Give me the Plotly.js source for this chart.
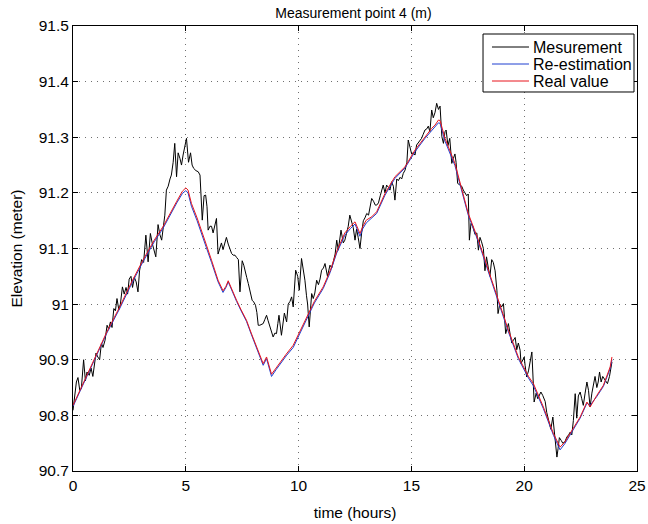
<!DOCTYPE html>
<html>
<head>
<meta charset="utf-8">
<script src="https://cdn.plot.ly/plotly-3.0.1.min.js"></script>
<style>html,body{margin:0;padding:0;background:#fff;}#chart{width:648px;height:524px;}</style>
</head>
<body>
<div id="chart"></div>
<script>
// Measurement (black), time in hours
const measTime = [0.00,0.07,0.15,0.22,0.30,0.37,0.47,0.55,0.62,0.72,0.80,0.88,0.95,1.02,1.10,1.18,1.26,1.33,1.42,1.51,1.58,1.66,1.73,1.81,1.88,1.95,2.03,2.10,2.19,2.27,2.35,2.42,2.49,2.57,2.64,2.72,2.80,2.88,2.95,3.04,3.13,3.23,3.33,3.43,3.52,3.60,3.67,3.77,3.85,3.93,4.00,4.07,4.14,4.22,4.30,4.36,4.44,4.51,4.59,4.66,4.74,4.81,4.88,4.96,5.03,5.12,5.21,5.28,5.35,5.45,5.55,5.63,5.73,5.81,5.88,5.94,5.99,6.07,6.14,6.21,6.28,6.36,6.43,6.50,6.58,6.65,6.73,6.80,6.88,6.95,7.03,7.10,7.18,7.25,7.33,7.40,7.50,7.57,7.62,7.70,7.77,7.85,7.94,8.01,8.09,8.15,8.21,8.28,8.36,8.43,8.50,8.58,8.65,8.73,8.80,8.87,8.95,9.02,9.08,9.13,9.24,9.30,9.37,9.47,9.54,9.62,9.69,9.76,9.87,9.96,10.03,10.13,10.20,10.28,10.35,10.40,10.47,10.53,10.58,10.65,10.72,10.80,10.88,10.95,11.02,11.10,11.17,11.28,11.39,11.47,11.54,11.62,11.69,11.76,11.88,11.98,12.05,12.13,12.20,12.27,12.35,12.42,12.50,12.57,12.64,12.72,12.80,12.87,12.94,13.02,13.10,13.17,13.24,13.32,13.40,13.46,13.54,13.62,13.68,13.75,13.83,13.90,13.98,14.05,14.12,14.20,14.27,14.35,14.42,14.50,14.57,14.64,14.72,14.80,14.86,14.94,15.01,15.08,15.16,15.23,15.30,15.38,15.45,15.52,15.60,15.68,15.75,15.82,15.90,15.97,16.05,16.12,16.20,16.27,16.35,16.42,16.49,16.54,16.62,16.70,16.79,16.86,16.93,16.98,17.05,17.12,17.23,17.30,17.38,17.45,17.52,17.57,17.64,17.72,17.82,17.90,17.97,18.04,18.11,18.19,18.26,18.33,18.41,18.48,18.56,18.63,18.71,18.79,18.84,18.92,19.00,19.08,19.18,19.25,19.30,19.38,19.45,19.52,19.60,19.67,19.74,19.82,19.86,19.94,20.00,20.04,20.11,20.19,20.26,20.34,20.44,20.53,20.60,20.65,20.74,20.82,20.88,20.93,21.00,21.07,21.13,21.18,21.27,21.33,21.37,21.45,21.50,21.56,21.64,21.71,21.80,21.89,21.97,22.04,22.11,22.18,22.26,22.33,22.40,22.48,22.55,22.62,22.70,22.78,22.85,22.92,23.00,23.07,23.14,23.22,23.28,23.34,23.41,23.48,23.55,23.62,23.69,23.78,23.89];
const measValue = [90.809,90.832,90.860,90.868,90.845,90.848,90.900,90.862,90.878,90.872,90.885,90.870,90.895,90.912,90.905,90.900,90.930,90.922,90.935,90.962,90.955,90.968,90.958,90.992,90.988,91.010,90.990,91.000,91.031,91.018,91.030,91.018,91.045,91.050,91.030,91.048,91.040,91.022,91.060,91.080,91.075,91.124,91.076,91.127,91.108,91.098,91.085,91.143,91.125,91.115,91.138,91.160,91.205,91.212,91.225,91.232,91.255,91.289,91.229,91.272,91.262,91.250,91.268,91.282,91.298,91.255,91.272,91.250,91.244,91.240,91.238,91.232,91.151,91.195,91.196,91.175,91.133,91.140,91.140,91.128,91.140,91.154,91.090,91.100,91.110,91.098,91.112,91.120,91.108,91.098,91.091,91.088,91.088,91.084,91.080,91.022,91.078,91.070,91.063,91.048,91.037,91.025,91.007,91.004,90.998,90.985,90.962,90.962,90.964,90.965,90.972,90.980,90.970,90.958,90.948,90.941,90.948,90.947,90.965,90.980,90.944,90.968,90.984,90.968,91.000,91.005,91.013,90.995,91.061,91.050,91.025,91.082,91.065,91.043,91.015,91.000,90.959,90.995,91.019,91.010,91.020,91.043,91.035,91.045,91.061,91.065,91.073,91.050,91.070,91.065,91.075,91.090,91.115,91.097,91.133,91.110,91.115,91.127,91.140,91.160,91.150,91.138,91.115,91.135,91.120,91.100,91.130,91.150,91.155,91.163,91.160,91.175,91.190,91.185,91.178,91.178,91.182,91.195,91.205,91.214,91.200,91.214,91.210,91.205,91.220,91.212,91.187,91.225,91.222,91.228,91.225,91.235,91.241,91.255,91.295,91.280,91.270,91.272,91.268,91.286,91.290,91.295,91.298,91.305,91.313,91.315,91.320,91.310,91.349,91.335,91.345,91.361,91.350,91.356,91.301,91.289,91.310,91.313,91.285,91.298,91.253,91.262,91.270,91.255,91.217,91.215,91.212,91.205,91.199,91.195,91.198,91.115,91.145,91.140,91.125,91.128,91.097,91.120,91.112,91.100,91.060,91.085,91.065,91.050,91.080,91.075,91.060,91.025,90.983,91.000,90.995,91.001,90.947,90.960,90.965,90.945,90.930,90.935,90.940,90.918,90.930,90.917,90.893,90.900,90.905,90.890,90.869,90.880,90.900,90.914,90.824,90.840,90.830,90.835,90.842,90.836,90.830,90.825,90.805,90.791,90.785,90.775,90.797,90.775,90.764,90.725,90.740,90.760,90.755,90.750,90.752,90.761,90.765,90.770,90.765,90.791,90.839,90.795,90.835,90.842,90.830,90.818,90.840,90.860,90.845,90.815,90.840,90.855,90.870,90.850,90.860,90.878,90.860,90.870,90.865,90.862,90.857,90.870,90.896];

// Real value (red) and re-estimation (blue)
const modelTime = [0.00,0.30,0.60,1.04,1.50,2.07,2.60,3.10,3.60,4.00,4.29,4.60,4.85,5.00,5.10,5.25,5.50,5.70,5.90,6.14,6.43,6.65,6.78,6.88,7.00,7.25,7.45,7.69,7.90,8.14,8.30,8.43,8.58,8.68,8.80,9.00,9.17,9.45,9.76,10.05,10.35,10.70,11.09,11.40,11.69,12.05,12.30,12.50,12.72,12.85,13.00,13.24,13.46,13.83,14.27,14.72,15.16,15.60,15.90,16.05,16.20,16.27,16.40,16.49,16.93,17.52,17.97,18.41,18.86,19.30,19.74,19.96,20.19,20.41,20.85,21.30,21.59,21.80,22.04,22.48,22.78,22.92,23.22,23.51,23.81,23.89];
const realValue = [90.818,90.845,90.872,90.911,90.950,90.995,91.040,91.079,91.115,91.140,91.163,91.185,91.203,91.209,91.205,91.181,91.155,91.133,91.108,91.079,91.043,91.024,91.032,91.042,91.030,91.007,90.990,90.971,90.948,90.923,90.905,90.893,90.905,90.890,90.874,90.885,90.895,90.910,90.926,90.950,90.977,91.005,91.031,91.060,91.095,91.128,91.140,91.148,91.127,91.140,91.151,91.157,91.166,91.199,91.229,91.247,91.277,91.301,91.316,91.322,91.331,91.330,91.310,91.298,91.253,91.163,91.115,91.061,91.007,90.953,90.905,90.887,90.870,90.857,90.815,90.767,90.743,90.752,90.767,90.797,90.824,90.815,90.836,90.854,90.887,90.905];
const reestValue = [90.816,90.842,90.870,90.908,90.948,90.992,91.037,91.076,91.112,91.137,91.160,91.182,91.199,91.204,91.200,91.176,91.150,91.128,91.103,91.075,91.040,91.021,91.030,91.040,91.028,91.005,90.988,90.969,90.946,90.920,90.902,90.890,90.902,90.887,90.870,90.882,90.892,90.907,90.922,90.946,90.973,91.002,91.028,91.057,91.092,91.124,91.136,91.144,91.122,91.136,91.146,91.154,91.163,91.196,91.226,91.245,91.274,91.298,91.312,91.318,91.326,91.325,91.305,91.293,91.249,91.160,91.112,91.058,91.004,90.950,90.902,90.884,90.867,90.853,90.812,90.764,90.738,90.749,90.765,90.795,90.822,90.818,90.834,90.852,90.884,90.900];

const seriesNames = ['Mesurement', 'Re-estimation', 'Real value'];
const seriesColors = ['#000000', '#1f3fd0', '#e8141c'];

const xTickVals = [0,5,10,15,20,25];
const yTickVals = [90.7,90.8,90.9,91,91.1,91.2,91.3,91.4,91.5];
const yTickText = ['90.7','90.8','90.9','91','91.1','91.2','91.3','91.4','91.5'];

const FONT = 'Liberation Sans, Arial, Helvetica, sans-serif';

const traces = [
  {x: measTime, y: measValue, type: 'scatter', mode: 'lines', name: seriesNames[0],
   line: {color: seriesColors[0], width: 1}},
  {x: modelTime, y: reestValue, type: 'scatter', mode: 'lines', name: seriesNames[1],
   line: {color: seriesColors[1], width: 1}},
  {x: modelTime, y: realValue, type: 'scatter', mode: 'lines', name: seriesNames[2],
   line: {color: seriesColors[2], width: 1}}
];

const axisCommon = {
  showline: true, mirror: 'ticks', linecolor: '#000', linewidth: 1,
  ticks: 'inside', ticklen: 5, tickcolor: '#000',
  showgrid: true, gridcolor: '#707070', griddash: '1px,5px', gridwidth: 1,
  zeroline: false, tickfont: {family: FONT, size: 15.5, color: '#000'}
};

// custom MATLAB-like legend (paper coordinates)
const legRowY = [0.9528, 0.9146, 0.8764];
const shapes = [
  {type: 'rect', xref: 'paper', yref: 'paper', x0: 0.7270, x1: 0.9947, y0: 0.8517, y1: 0.982,
   line: {color: '#000', width: 1}, fillcolor: '#fff', layer: 'above'}
];
const annotations = [];
seriesNames.forEach((nm, i) => {
  shapes.push({type: 'line', xref: 'paper', yref: 'paper', x0: 0.7429, x1: 0.8085,
               y0: legRowY[i], y1: legRowY[i], line: {color: seriesColors[i], width: 1}, layer: 'above'});
  annotations.push({xref: 'paper', yref: 'paper', x: 0.8121, y: legRowY[i], xanchor: 'left', yanchor: 'middle',
                    text: nm, showarrow: false, font: {family: FONT, size: 16, color: '#000'}});
});

const layout = {
  width: 648, height: 524,
  margin: {l: 73, r: 11, t: 26, b: 53},
  paper_bgcolor: '#fff', plot_bgcolor: '#fff',
  font: {family: FONT, color: '#000'},
  title: {text: 'Measurement point 4 (m)', font: {family: FONT, size: 14, color: '#000'},
          x: 0.5455, xanchor: 'center', y: 0.975, yanchor: 'middle'},
  xaxis: Object.assign({}, axisCommon, {
    range: [0, 25], tickvals: xTickVals, ticktext: xTickVals.map(String),
    title: {text: 'time (hours)', font: {family: FONT, size: 15.5}, standoff: 14}
  }),
  yaxis: Object.assign({}, axisCommon, {
    range: [90.7, 91.5], tickvals: yTickVals, ticktext: yTickText,
    title: {text: 'Elevation (meter)', font: {family: FONT, size: 15.5}, standoff: 12}
  }),
  showlegend: false,
  shapes: shapes,
  annotations: annotations
};

Plotly.newPlot('chart', traces, layout, {displayModeBar: false, staticPlot: true});
</script>
</body>
</html>
